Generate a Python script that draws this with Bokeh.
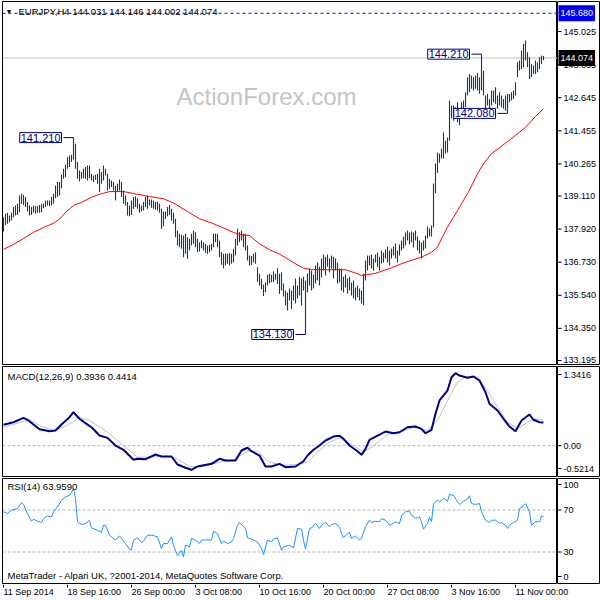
from bokeh.plotting import figure
from bokeh.models import Range1d, Label
from bokeh.layouts import column, row
from bokeh.embed import file_html
from bokeh.resources import INLINE
from bokeh.core.properties import value

FONT = "Liberation Sans"

# ---------------- data ----------------
symbol = "EURJPY,H4"
last_ohlc = [144.031, 144.146, 144.002, 144.074]
alert_level = 145.680

highs = [
    138.35, 138.47, 138.51, 138.41, 138.51, 138.71, 138.77, 138.83, 139.13, 139.19,
    139.15, 139.07, 138.89, 138.77, 138.71, 138.77, 138.74, 138.74, 138.79, 138.83,
    138.83, 138.95, 138.95, 138.95, 139.07, 139.19, 139.49, 139.61, 139.61, 139.87,
    140.09, 140.23, 140.50, 140.57, 140.59, 141.21, 140.99, 140.33, 140.03, 139.97,
    140.09, 140.15, 140.21, 140.21, 139.91, 139.85, 139.87, 139.91, 140.09, 139.97,
    140.21, 140.09, 139.91, 139.73, 139.67, 139.61, 139.49, 139.55, 139.70, 139.61,
    139.31, 139.13, 138.89, 138.77, 138.95, 139.07, 139.10, 139.03, 138.83, 138.77,
    138.89, 139.07, 139.13, 138.98, 138.98, 138.95, 138.89, 138.91, 138.83, 138.65,
    138.55, 138.55, 138.71, 138.79, 138.65, 138.51, 138.29, 137.87, 137.75, 137.72,
    137.69, 137.75, 137.63, 137.57, 137.75, 137.87, 137.81, 137.57, 137.45, 137.51,
    137.45, 137.39, 137.33, 137.36, 137.39, 137.75, 137.75, 137.75, 137.51, 137.09,
    137.03, 137.03, 137.03, 137.06, 137.03, 137.21, 137.57, 137.93, 137.81, 137.87,
    137.75, 137.75, 137.33, 136.97, 136.95, 137.03, 137.09, 136.55, 136.31, 136.13,
    135.92, 136.01, 136.28, 136.31, 136.28, 136.40, 136.31, 136.51, 136.31, 136.37,
    135.96, 135.71, 135.64, 135.78, 135.71, 135.89, 136.14, 135.89, 136.21, 136.14,
    136.21, 136.07, 136.32, 136.50, 136.43, 136.29, 136.61, 136.72, 136.57, 136.86,
    137.01, 136.93, 137.01, 136.86, 136.97, 136.93, 136.86, 136.72, 136.50, 136.50,
    136.21, 136.29, 136.14, 136.21, 136.00, 136.07, 135.82, 135.89, 135.78, 135.71,
    136.32, 136.79, 136.97, 136.97, 137.01, 136.86, 137.01, 137.08, 136.93, 137.15,
    137.08, 137.19, 137.29, 137.15, 137.22, 137.29, 137.40, 137.15, 137.37, 137.51,
    137.65, 137.80, 137.87, 137.80, 137.83, 137.80, 137.87, 137.65, 137.51, 137.44,
    137.51, 137.69, 138.01, 137.94, 138.05, 139.56, 140.28, 140.67, 140.64, 140.82,
    141.39, 141.10, 141.21, 142.54, 142.36, 142.36, 142.30, 142.48, 142.25, 142.48,
    142.54, 142.84, 143.38, 143.50, 143.44, 143.38, 143.44, 143.53, 143.38, 144.21,
    143.62, 142.72, 142.78, 142.60, 142.90, 142.90, 143.02, 142.72, 142.84, 142.72,
    142.60, 142.72, 142.78, 142.78, 142.84, 142.90, 143.20, 143.92, 143.98, 144.34,
    144.58, 144.70, 144.28, 144.10, 143.86, 143.80, 143.98, 143.92, 144.10, 144.16,
    144.146]

lows = [
    137.83, 138.07, 138.11, 138.17, 138.23, 138.35, 138.41, 138.43, 138.53, 138.83,
    138.79, 138.71, 138.55, 138.41, 138.43, 138.51, 138.47, 138.51, 138.51, 138.53,
    138.67, 138.71, 138.77, 138.75, 138.77, 138.83, 139.03, 139.07, 139.13, 139.39,
    139.73, 139.79, 140.09, 140.15, 140.33, 140.42, 140.09, 139.73, 139.63, 139.73,
    139.75, 139.73, 139.67, 139.75, 139.67, 139.61, 139.69, 139.55, 139.25, 139.55,
    139.67, 139.85, 139.31, 139.37, 139.43, 139.31, 138.95, 139.25, 139.31, 139.07,
    138.83, 138.77, 138.41, 138.38, 138.43, 138.65, 138.71, 138.65, 138.51, 138.55,
    138.59, 138.71, 138.65, 138.77, 138.69, 138.65, 138.62, 138.59, 138.51, 137.93,
    138.02, 138.29, 138.38, 138.43, 138.23, 138.11, 137.63, 137.33, 137.27, 137.21,
    136.91, 137.03, 136.85, 137.15, 137.33, 137.39, 137.27, 137.09, 137.11, 137.23,
    137.15, 137.07, 137.03, 137.09, 137.15, 137.27, 137.45, 137.27, 136.91, 136.64,
    136.51, 136.61, 136.67, 136.61, 136.67, 136.73, 136.97, 137.33, 137.45, 137.51,
    137.27, 137.15, 136.79, 136.61, 136.63, 136.73, 136.67, 136.03, 135.89, 135.77,
    135.51, 135.65, 135.89, 135.97, 136.01, 136.01, 136.10, 135.95, 135.59, 135.71,
    135.50, 135.17, 134.99, 135.35, 135.06, 135.35, 135.24, 135.42, 135.53, 135.17,
    135.71, 134.13, 135.64, 135.89, 135.71, 135.78, 135.96, 136.07, 135.89, 136.18,
    136.43, 136.25, 136.57, 136.36, 136.50, 136.14, 136.43, 135.96, 136.00, 135.71,
    135.64, 135.82, 135.60, 135.71, 135.53, 135.42, 135.35, 135.46, 135.35, 135.24,
    135.17, 136.07, 136.43, 136.61, 136.50, 136.43, 136.72, 136.57, 136.43, 136.68,
    136.72, 136.86, 136.72, 136.61, 136.86, 136.97, 136.86, 136.72, 136.97, 137.15,
    137.22, 137.33, 137.51, 137.37, 137.44, 137.26, 137.51, 137.15, 137.04, 136.86,
    137.15, 137.22, 137.58, 137.65, 137.65, 137.98, 139.20, 139.95, 140.31, 140.46,
    140.46, 140.64, 140.67, 141.10, 141.90, 141.82, 141.89, 141.76, 141.65, 142.07,
    142.18, 142.30, 142.72, 142.84, 142.97, 142.90, 142.97, 142.90, 142.79, 142.90,
    142.72, 142.12, 142.36, 142.25, 142.36, 142.48, 142.43, 142.25, 142.36, 142.30,
    142.25, 142.18, 142.08, 142.48, 142.54, 142.60, 142.72, 143.38, 143.62, 143.68,
    143.74, 143.98, 143.74, 143.32, 143.38, 143.50, 143.50, 143.56, 143.68, 143.86,
    144.002]

ma_idx = [0, 5, 10, 15, 20, 25, 28, 31, 35, 39, 44, 48, 53, 60, 65, 73, 80, 85, 92, 98,
          104, 110, 115, 119, 123, 128, 133, 138, 146, 150, 154, 162, 171, 176, 179, 186,
          194, 201, 209, 214, 217, 219, 222, 227, 232, 237, 240, 244, 251, 256, 261, 266, 270]
ma_val = [137.19, 137.37, 137.58, 137.80, 137.98, 138.13, 138.28, 138.52, 138.77, 138.88,
          139.07, 139.17, 139.27, 139.27, 139.20, 139.09, 139.01, 138.86, 138.55, 138.29,
          138.14, 137.96, 137.80, 137.71, 137.69, 137.39, 137.18, 137.02, 136.67, 136.52,
          136.46, 136.46, 136.46, 136.34, 136.25, 136.33, 136.53, 136.73, 136.91, 137.09,
          137.27, 137.57, 137.99, 138.59, 139.19, 139.91, 140.27, 140.63, 141.01, 141.29,
          141.58, 141.97, 142.25]

macd_idx = [0, 5, 10, 12, 15, 18, 23, 26, 29, 33, 35, 38, 42, 44, 48, 52, 56, 60, 65, 67,
            71, 76, 79, 84, 87, 91, 94, 97, 104, 108, 111, 116, 119, 122, 124, 128, 131, 134,
            138, 141, 146, 150, 152, 155, 158, 161, 165, 168, 170, 173, 177, 179, 181, 183,
            187, 191, 195, 198, 202, 206, 209, 211, 214, 216, 218, 222, 224, 226, 228, 232,
            235, 238, 241, 243, 247, 250, 253, 256, 259, 263, 265, 268, 270]
macd_val = [0.354, 0.398, 0.472, 0.439, 0.358, 0.280, 0.246, 0.257, 0.358, 0.483, 0.567,
            0.456, 0.358, 0.313, 0.172, 0.133, 0.003, -0.069, -0.239, -0.222, -0.228, -0.149,
            -0.183, -0.183, -0.318, -0.374, -0.408, -0.352, -0.307, -0.222, -0.250, -0.250,
            -0.081, -0.035, -0.093, -0.166, -0.352, -0.352, -0.307, -0.363, -0.352, -0.263,
            -0.166, -0.069, 0.003, 0.088, 0.155, 0.167, 0.117, 0.003, -0.093, -0.155, -0.053,
            0.100, 0.172, 0.240, 0.211, 0.228, 0.313, 0.325, 0.286, 0.211, 0.269, 0.540,
            0.766, 0.935, 1.160, 1.228, 1.189, 1.150, 1.172, 1.104, 0.906, 0.710, 0.597,
            0.456, 0.325, 0.246, 0.427, 0.529, 0.439, 0.398, 0.3936]

signal_idx = [0, 13, 18, 25, 32, 38, 43, 52, 60, 67, 73, 82, 87, 93, 100, 108, 115, 122,
              127, 133, 140, 148, 152, 157, 162, 168, 175, 180, 185, 192, 198, 205, 212, 217,
              222, 227, 232, 237, 242, 247, 252, 257, 262, 265, 270]
signal_val = [0.313, 0.439, 0.342, 0.257, 0.342, 0.472, 0.427, 0.228, 0.003, -0.194, -0.194,
              -0.177, -0.222, -0.352, -0.352, -0.279, -0.239, -0.093, -0.093, -0.279, -0.335,
              -0.310, -0.279, -0.110, 0.042, 0.133, 0.003, -0.110, 0.003, 0.189, 0.228, 0.313,
              0.257, 0.427, 0.766, 1.076, 1.177, 1.160, 0.935, 0.652, 0.398, 0.286, 0.398,
              0.456, 0.4414]

rsi_idx = [0, 2, 4, 7, 9, 10, 12, 14, 15, 17, 19, 20, 22, 24, 25, 27, 29, 31, 33, 34, 35,
           36, 37, 39, 41, 43, 44, 47, 49, 50, 51, 53, 54, 56, 58, 59, 61, 63, 64, 65, 67, 69,
           70, 72, 74, 77, 79, 80, 82, 84, 85, 87, 89, 90, 91, 93, 94, 96, 98, 99, 101, 104,
           105, 107, 109, 110, 112, 114, 115, 117, 118, 120, 121, 122, 124, 127, 129, 130,
           132, 134, 135, 137, 139, 140, 143, 145, 147, 149, 150, 151, 153, 154, 156, 158,
           159, 161, 163, 164, 166, 168, 169, 170, 172, 173, 174, 176, 178, 179, 181, 183,
           184, 186, 188, 189, 191, 193, 194, 196, 198, 199, 201, 203, 204, 206, 208, 209,
           210, 212, 213, 214, 215, 217, 218, 220, 222, 223, 225, 227, 228, 230, 232, 233,
           234, 236, 238, 239, 241, 243, 244, 246, 248, 249, 251, 252, 254, 255, 257, 258,
           260, 261, 263, 264, 266, 268, 269, 270]
rsi_val = [68.3, 66.6, 69.8, 71.4, 77.1, 75.2, 66.6, 59.3, 61.2, 59.3, 58.1, 61.9, 64.4,
           63.5, 68.3, 73.0, 79.3, 82.5, 84.1, 86.7, 90.4, 81.0, 58.8, 56.2, 57.1, 60.3, 53.0,
           50.7, 48.6, 55.5, 55.5, 46.0, 44.5, 41.3, 45.4, 42.9, 38.1, 32.7, 31.7, 41.3, 43.5,
           39.0, 40.3, 46.0, 46.0, 44.5, 33.3, 38.1, 38.1, 44.5, 36.5, 26.4, 31.7, 25.4, 36.5,
           34.9, 42.9, 41.3, 38.1, 41.3, 41.6, 41.3, 49.8, 47.6, 38.1, 40.3, 38.1, 39.7, 42.9,
           55.5, 58.1, 54.0, 52.4, 43.5, 42.3, 39.7, 33.3, 27.6, 41.3, 39.7, 42.3, 43.5, 31.7,
           34.9, 36.5, 33.9, 52.4, 51.7, 41.3, 32.7, 52.4, 53.0, 57.1, 52.4, 55.5, 58.4, 54.0,
           56.2, 57.1, 54.0, 47.6, 43.5, 47.6, 48.6, 42.9, 45.4, 41.3, 42.9, 54.0, 60.3, 58.1,
           59.3, 58.8, 61.9, 60.3, 55.5, 56.2, 58.8, 57.1, 64.4, 68.3, 69.0, 65.1, 61.9, 63.5,
           58.8, 51.7, 57.1, 62.9, 58.8, 76.2, 79.3, 77.8, 81.0, 78.4, 84.7, 84.1, 77.8, 75.2,
           78.4, 80.3, 83.5, 76.2, 75.2, 76.2, 68.3, 60.3, 58.1, 60.3, 60.3, 57.1, 58.1, 55.5,
           52.4, 57.1, 58.1, 60.3, 71.4, 73.9, 76.2, 68.3, 55.5, 58.8, 58.8, 64.4, 63.959]

swing_idx = [35, 151, 239, 252]
swing_price = [141.210, 134.130, 144.210, 142.080]

price_ticks = [145.025, 143.835, 142.645, 141.455, 140.265, 139.110, 137.920,
               136.730, 135.540, 134.350, 133.195]
price_range = [133.051, 146.104]

macd_range = [-0.5214, 1.3416]
macd_labels = ["1.3416", "0.00", "-0.5214"]
rsi_range = [0, 100]
rsi_levels = [70, 30]
rsi_labels = ["100", "70", "30", "0"]

date_idx = [0, 32, 64, 96, 128, 160, 192, 224, 256]
date_labels = ["11 Sep 2014", "18 Sep 16:00", "26 Sep 00:00", "3 Oct 08:00",
               "10 Oct 16:00", "20 Oct 00:00", "27 Oct 08:00", "3 Nov 16:00",
               "11 Nov 00:00"]

# ---------------- styling / layout ----------------
BAR = "#133a5a"
NAVY = "#000080"
FW, SW = 555, 43          # plot-area width, right scale width
X_END = 277               # bar index at the right edge of the plot area
xr = Range1d(-0.5, X_END)


def panel(frame_h, bottom, yr):
    p = figure(frame_width=FW, frame_height=frame_h, x_range=xr, y_range=yr,
               output_backend="svg", toolbar_location=None,
               x_axis_location=None, y_axis_location=None,
               min_border_left=2, min_border_right=0, min_border_top=1,
               min_border_bottom=bottom, background_fill_color="white",
               border_fill_color="white", outline_line_color="black",
               outline_line_width=1)
    p.xgrid.visible = False
    p.ygrid.visible = False
    return p


def scale(frame_h, bottom, yr, ticks, labels):
    s = figure(frame_width=SW, frame_height=frame_h, x_range=Range1d(0, SW), y_range=yr,
               output_backend="svg", toolbar_location=None,
               x_axis_location=None, y_axis_location=None,
               min_border_left=0, min_border_right=0, min_border_top=1,
               min_border_bottom=bottom, background_fill_color="white",
               border_fill_color="white", outline_line_color="black",
               outline_line_width=1)
    s.xgrid.visible = False
    s.ygrid.visible = False
    s.segment(x0=[0] * len(ticks), y0=ticks, x1=[4] * len(ticks), y1=ticks,
              line_color="black", line_width=1)
    s.text(x=[6] * len(ticks), y=ticks, text=labels, text_baseline="middle",
           text_align="left", text_font=value(FONT), text_font_size="9px",
           text_color="black")
    return s


def txt(p, x, y, s, size="9.5px", color="black", **kw):
    p.add_layout(Label(x=x, y=y, x_units="screen", y_units="screen", text=s,
                       text_font=FONT, text_font_size=size, text_color=color,
                       text_baseline="middle", **kw))


# ---------------- main price panel ----------------
H1 = 363
yr1 = Range1d(*price_range)
p1 = panel(H1, 1, yr1)
p1.segment(x0=[-0.5, -0.5], y0=[alert_level, last_ohlc[3]], x1=[X_END, X_END],
           y1=[alert_level, last_ohlc[3]], line_color=["#0000ff", "#c0c0c0"],
           line_dash=["3 3", "solid"], line_width=1)

txt(p1, 174, H1 - 95, "ActionForex.com", size="24px", color="#c4c4c4")

bar_idx = list(range(len(highs)))
p1.segment(x0=bar_idx, y0=lows, x1=bar_idx, y1=highs, line_color=BAR, line_width=1.1)
p1.line(ma_idx, ma_val, line_color="#ff0000", line_width=1)

p1.segment(x0=[i - 5 for i in swing_idx], y0=swing_price, x1=swing_idx, y1=swing_price,
           line_color=NAVY, line_width=1)
for i, v in zip(swing_idx, swing_price):
    p1.add_layout(Label(x=i, y=v, text=f"{v:.3f}", x_offset=-12, text_align="right",
                        text_baseline="middle", text_font=FONT, text_font_size="11px",
                        text_color=NAVY, background_fill_color="white",
                        border_line_color=NAVY, border_line_width=1, padding=1))

txt(p1, 3, H1 - 10, "\u25bc", size="7px")
txt(p1, 16, H1 - 10, f"{symbol}  " + " ".join(f"{v:.3f}" for v in last_ohlc))

s1 = scale(H1, 1, yr1, price_ticks, [f"{t:.3f}" for t in price_ticks])
for lvl, bg in [(alert_level, "#0000ff"), (last_ohlc[3], "black")]:
    s1.add_layout(Label(x=1, y=lvl, text=f"{lvl:.3f}", text_baseline="middle",
                        text_font=FONT, text_font_size="9px", text_color="white",
                        background_fill_color=bg, padding=(2, 5)))

# ---------------- MACD panel ----------------
H2 = 110
yr2 = Range1d(*macd_range)
p2 = panel(H2, 1, yr2)
mspan = macd_range[1] - macd_range[0]
macd_pos = [macd_range[1] - 8 * mspan / H2, 0.0, macd_range[0] + 8 * mspan / H2]
p2.segment(x0=[-0.5], y0=[0], x1=[X_END], y1=[0], line_color="#b4b4b4",
           line_dash="3 2", line_width=1)
p2.line(signal_idx, signal_val, line_color="#c0c0c0", line_width=1)
p2.line(macd_idx, macd_val, line_color="#00008b", line_width=2)
txt(p2, 5, H2 - 10, f"MACD(12,26,9) {macd_val[-1]:.4f} {signal_val[-1]:.4f}")
s2 = scale(H2, 1, yr2, macd_pos, macd_labels)

# ---------------- RSI panel ----------------
H3 = 105
yr3 = Range1d(*rsi_range)
p3 = panel(H3, 1, yr3)
rsi_pos = [100 - 6 * 100 / H3, 70.0, 30.0, 7 * 100 / H3]
p3.segment(x0=[-0.5] * 2, y0=rsi_levels, x1=[X_END] * 2, y1=rsi_levels,
           line_color="#b4b4b4", line_dash="3 2", line_width=1)
p3.line(rsi_idx, rsi_val, line_color="#1e90ff", line_width=1)
txt(p3, 5, H3 - 8, f"RSI(14) {rsi_val[-1]:.4f}")
txt(p3, 5, 8, "MetaTrader - Alpari UK, ?2001-2014, MetaQuotes Software Corp.")
s3 = scale(H3, 1, yr3, rsi_pos, rsi_labels)

# ---------------- time scale ----------------
HD = 16
pd = figure(frame_width=FW + SW - 2, frame_height=HD,
            x_range=Range1d(-0.5, X_END + (SW - 2) / 2), y_range=Range1d(0, HD),
            output_backend="svg", toolbar_location=None,
            x_axis_location=None, y_axis_location=None,
            min_border_left=2, min_border_right=0, min_border_top=0,
            min_border_bottom=0, background_fill_color="white",
            border_fill_color="white", outline_line_color=None)
pd.xgrid.visible = False
pd.ygrid.visible = False
pd.segment(x0=date_idx, y0=[HD] * len(date_idx), x1=date_idx, y1=[HD - 3] * len(date_idx),
           line_color="black", line_width=1)
pd.text(x=date_idx, y=[HD - 2] * len(date_idx), text=date_labels, text_align="left",
        text_baseline="top", text_font=value(FONT), text_font_size="9px",
        text_color="black")

layout = column(row(p1, s1, spacing=0), row(p2, s2, spacing=0),
                row(p3, s3, spacing=0), pd, spacing=0)
open("out.html", "w").write(file_html(layout, INLINE))
